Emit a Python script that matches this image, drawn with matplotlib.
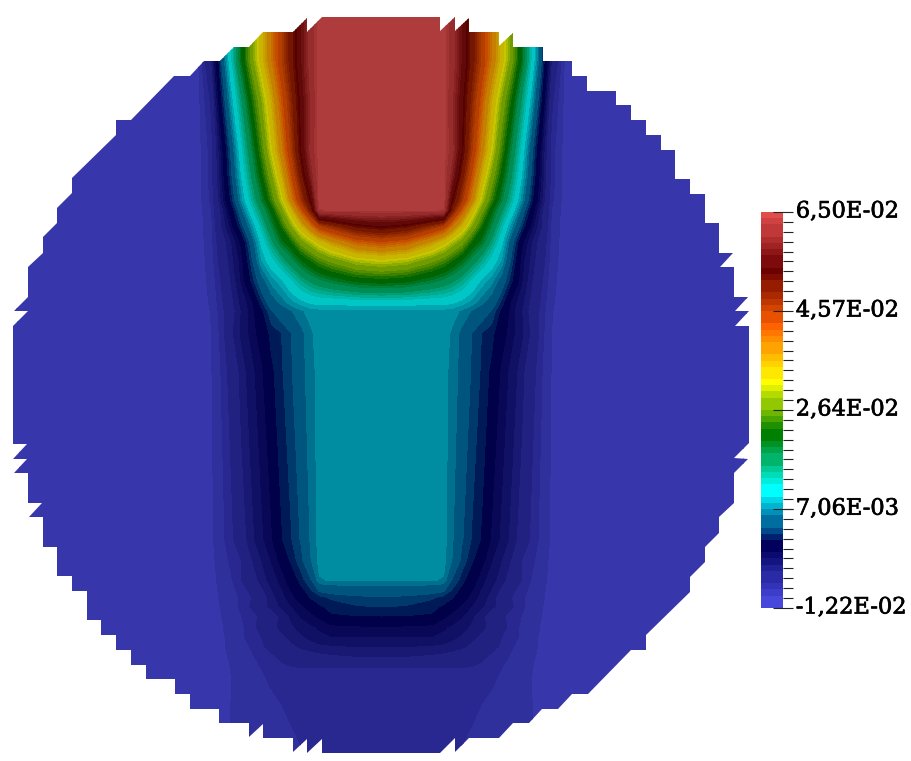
import numpy as np
import matplotlib
matplotlib.use("Agg")
import matplotlib.pyplot as plt
import matplotlib.patheffects as pe
from matplotlib.colors import LinearSegmentedColormap, ListedColormap, BoundaryNorm
from matplotlib.patches import Polygon
from matplotlib.transforms import ScaledTranslation

##### data #####
# distance from the symmetry axis and rows, in image pixels
center_x = 381.5
x_cols = [0, 25, 50, 62, 70, 80, 90, 100, 110, 120, 130, 140, 150, 160, 170, 185, 368]
y_rows = [17, 60, 100, 150, 175, 200, 210, 226, 242, 260, 281, 303, 311, 333, 370, 540, 560, 580, 597, 606, 616, 627, 637, 647, 657, 668, 687, 710, 753]

# field values x 1e-3, one list per row
field_rows = [
    [64.5, 64.5, 64.5, 64.5, 61.7, 56.4, 50.8, 45.3, 39.5, 33.7, 27.2, 20.2, 11.6, 4.2, -3.5, -10.6, -11],
    [64.5, 64.5, 64.5, 64.5, 61.7, 56.4, 50.8, 45.3, 39.5, 33.7, 27.2, 20.2, 11.6, 3.45, -5.1, -10.6, -11],
    [64.5, 64.5, 64.5, 64.5, 60.8, 54.9, 48.5, 42.0, 35.1, 28.6, 22.3, 15.2, 8.4, 0.9, -7.0, -10.6, -11],
    [64.5, 64.5, 64.5, 64.5, 61.3, 54.0, 46.1, 38.7, 31.7, 24.5, 17.7, 11.2, 4.25, -2.3, -8.0, -10.6, -11],
    [64.5, 64.5, 64.5, 64.5, 59.0, 51.0, 43.0, 34.9, 28.1, 21.6, 15.6, 9.6, 3.2, -2.8, -8.0, -10.6, -11],
    [64.5, 64.5, 64.5, 64.5, 54.0, 46.7, 38.8, 30.7, 24.2, 18.3, 13.0, 7.5, 1.6, -3.6, -8.3, -10.6, -11],
    [64.0, 64.0, 64.0, 63.6, 50.6, 42.2, 34.3, 27.5, 21.0, 15.9, 10.9, 5.4, -0.2, -4.7, -8.6, -10.6, -11],
    [54.0, 52.4, 47.7, 45.0, 40.0, 34.6, 28.9, 22.9, 18.0, 12.7, 7.4, 2.6, -2.0, -5.0, -8.9, -10.6, -11],
    [43.0, 41.4, 36.5, 33.4, 30.7, 27.5, 22.6, 19.5, 14.8, 10.0, 4.5, -0.9, -3.8, -6.0, -9.0, -10.6, -11],
    [32.0, 30.8, 27.3, 25.2, 23.1, 20.4, 17.2, 14.2, 11.0, 8.2, 3.0, -2.0, -4.2, -6.5, -9.2, -10.6, -11],
    [21.5, 20.8, 18.6, 17.2, 16.0, 14.1, 11.5, 9.1, 7.5, 4.9, 1.3, -2.4, -4.8, -7.2, -9.4, -10.6, -11],
    [10.3, 10.2, 9.9, 9.9, 9.7, 8.8, 7.7, 6.2, 4.8, 1.8, -1.9, -3.4, -5.4, -7.8, -9.6, -10.6, -11],
    [7.8, 7.8, 7.8, 7.8, 7.7, 6.9, 5.8, 4.7, 3.3, 0.6, -2.1, -3.7, -5.7, -8.0, -9.7, -10.6, -11],
    [7.8, 7.8, 7.8, 7.8, 6.9, 5.5, 3.48, 2.27, 1.6, -0.5, -2.2, -3.5, -5.3, -8.2, -9.8, -10.8, -11],
    [7.8, 7.8, 7.8, 7.6, 6.7, 5.4, 3.3, 2.1, 0.7, -1.7, -3.0, -4.4, -6.6, -8.5, -9.85, -10.8, -11],
    [7.8, 7.8, 7.8, 7.5, 6.3, 3.7, 2.2, 0.9, -1.65, -2.85, -4.2, -5.8, -7.8, -9.0, -10.0, -10.8, -11],
    [7.8, 7.8, 7.8, 7.5, 6.0, 3.1, 1.5, -0.8, -2.45, -3.76, -5.1, -7.38, -8.3, -9.2, -10.1, -10.8, -11],
    [7.2, 7.2, 7.2, 7.0, 3.5, 1.8, -0.3, -2.2, -3.2, -4.5, -5.8, -7.4, -8.7, -9.4, -10.2, -10.8, -11],
    [3.4, 3.2, 2.6, 1.9, 1.4, -0.3, -1.9, -3.0, -4.3, -5.9, -7.38, -8.4, -9.0, -9.6, -10.3, -10.8, -11],
    [2.4, 2.2, 1.5, 0.9, -0.4, -1.6, -2.55, -3.55, -4.5, -5.7, -7.2, -8.35, -9.05, -9.7, -10.3, -10.8, -11],
    [1.07, 1.03, 0.9, -1.0, -1.7, -2.4, -3.5, -4.6, -6.0, -7.1, -7.9, -8.6, -9.1, -9.8, -10.4, -10.8, -11],
    [-1.5, -1.6, -1.9, -2.4, -2.75, -3.35, -3.95, -4.6, -5.5, -6.75, -7.9, -8.85, -9.35, -9.9, -10.45, -10.8, -11],
    [-2.55, -2.56, -2.6, -2.8, -3.4, -3.95, -4.6, -5.3, -6.4, -7.38, -8.1, -8.8, -9.4, -10.0, -10.5, -10.8, -11],
    [-3.76, -3.82, -4.0, -4.2, -4.4, -4.8, -5.3, -6.1, -6.85, -7.65, -8.5, -9.0, -9.5, -10.0, -10.5, -10.8, -11],
    [-4.96, -5.05, -5.3, -5.5, -5.7, -6.0, -6.5, -7.1, -7.7, -8.2, -8.75, -9.2, -9.6, -10.1, -10.5, -10.8, -11],
    [-7.45, -7.45, -7.4, -7.45, -7.45, -7.45, -7.5, -7.7, -8.0, -8.58, -9.0, -9.4, -9.75, -10.2, -10.5, -10.8, -11],
    [-7.9, -7.9, -7.9, -7.9, -7.95, -8.0, -8.2, -8.4, -8.55, -8.8, -9.2, -9.5, -9.8, -10.2, -10.5, -10.8, -11],
    [-7.9, -7.9, -7.9, -7.95, -8.05, -8.2, -8.4, -8.65, -8.9, -9.1, -9.3, -9.5, -9.75, -10.1, -10.5, -10.8, -11],
    [-7.9, -7.9, -7.9, -8.0, -8.3, -8.65, -8.9, -9.1, -9.3, -9.5, -9.6, -9.7, -9.8, -10.1, -10.5, -10.8, -11],
]

# stepped mesh outline, clockwise from the top edge
outline_x = [322, 440, 440, 455, 455, 469, 469, 499, 499, 513, 513, 543, 543, 572, 572, 587, 587, 616, 616, 631, 631, 646, 646, 661, 661,
             675, 675, 690, 690, 705, 705, 719, 719, 733, 720, 734, 734, 748, 735, 749, 735, 749, 749, 734, 748, 734, 734, 719, 719, 705,
             705, 690, 690, 646, 646, 631, 588, 572, 558, 542, 529, 513, 499, 469, 455, 455, 440, 322, 322, 307, 307, 293, 293, 263, 263,
             249, 249, 219, 219, 190, 190, 175, 175, 146, 146, 131, 131, 116, 116, 101, 101, 87, 87, 72, 72, 57, 57, 43, 43, 29, 42, 28,
             28, 14, 27, 13, 27, 13, 13, 28, 14, 28, 28, 43, 43, 57, 57, 72, 72, 116, 116, 131, 174, 190, 204, 220, 234, 249, 263, 293, 307, 307]
outline_y = [17, 17, 31, 17, 31, 18, 32, 32, 46, 33, 47, 47, 61, 61, 76, 76, 91, 91, 105, 105, 120, 120, 135, 135, 150,
             150, 179, 179, 194, 194, 223, 223, 253, 253, 267, 267, 297, 297, 311, 311, 326, 326, 443, 458, 459, 473, 503, 517, 533, 547,
             562, 577, 592, 635, 650, 650, 694, 694, 709, 709, 723, 723, 738, 738, 752, 738, 753, 753, 739, 753, 739, 752, 738, 738, 724,
             737, 723, 723, 709, 709, 694, 694, 679, 679, 665, 665, 650, 650, 635, 635, 620, 620, 591, 591, 576, 576, 547, 547, 517, 517, 503, 503,
             473, 473, 459, 459, 444, 444, 326, 311, 311, 297, 267, 253, 237, 223, 208, 193, 178, 135, 120, 120, 76, 76, 61, 61, 47, 47, 32, 32, 18, 32]

# colour bar
bar_min = -12.2
bar_max = 65.0
n_bands = 64
tick_values = [-12.2, 7.06, 26.4, 45.7, 65.0]
tick_labels = ["-1,22E-02", "7,06E-03", "2,64E-02", "4,57E-02", "6,50E-02"]

# the surface is lit, so its colours are darker than the ones in the bar
surface_shade = 0.78

cmap_colors = [(0.278, 0.278, 0.859), (0, 0, 0.359), (0, 1, 1), (0, 0.5, 0),
               (1, 1, 0), (1, 0.38, 0), (0.42, 0, 0), (0.878, 0.302, 0.302)]

##### colours #####
base = LinearSegmentedColormap.from_list("rainbow_desat", cmap_colors, N=256)
levels = np.linspace(bar_min, bar_max, n_bands + 1)
# some neighbouring bands share a colour in the bar
band_idx = np.floor(np.arange(n_bands) * 0.785)
bar_colors = base(band_idx / band_idx.max())
surface_colors = bar_colors.copy()
surface_colors[:, :3] *= surface_shade

##### figure #####
W, H = 911, 761
fig = plt.figure(figsize=(W / 100, H / 100), dpi=100, facecolor="white")
ax = fig.add_axes([0, 0, 1, 1])
ax.set_xlim(0, W)
ax.set_ylim(H, 0)
ax.axis("off")

half = np.array(x_cols, dtype=float)
x_full = np.concatenate([center_x - half[:0:-1], center_x + half])
z_half = np.array(field_rows)
z_full = np.hstack([z_half[:, :0:-1], z_half])

cs = ax.contourf(x_full, y_rows, z_full, levels=levels, colors=[tuple(c) for c in surface_colors], antialiased=False)
clip = Polygon(np.column_stack([outline_x, outline_y]), closed=True, transform=ax.transData)
cs.set_clip_path(clip)

##### colour bar #####
cax = fig.add_axes([761 / W, 1 - 608 / H, 22 / W, 396 / H])
bar_vals = 0.5 * (levels[:-1] + levels[1:])
cax.pcolormesh([0, 1], levels, bar_vals[:, None], cmap=ListedColormap(bar_colors),
               norm=BoundaryNorm(levels, n_bands), rasterized=True)
cax.set_xticks([])
cax.set_ylim(bar_min, bar_max)
for s in cax.spines.values():
    s.set_visible(False)
cax.yaxis.tick_right()
cax.set_yticks(tick_values, labels=tick_labels)
cax.set_yticks(np.linspace(bar_min, bar_max, 41), minor=True)
cax.tick_params(axis="y", which="major", direction="inout", length=14.4, width=0.8, color="#222222", pad=2)
cax.tick_params(axis="y", which="minor", direction="out", length=7.2, width=0.8, color="#222222")
# labels sit a little above their ticks
label_shift = ScaledTranslation(0, 3 / 100, fig.dpi_scale_trans)
for lab in cax.get_yticklabels():
    lab.set_fontfamily("DejaVu Serif")
    lab.set_fontsize(16.2)
    lab.set_color("black")
    lab.set_transform(lab.get_transform() + label_shift)
    lab.set_path_effects([pe.withStroke(linewidth=0.5, foreground="black")])

fig.savefig("out.png", dpi=100)
